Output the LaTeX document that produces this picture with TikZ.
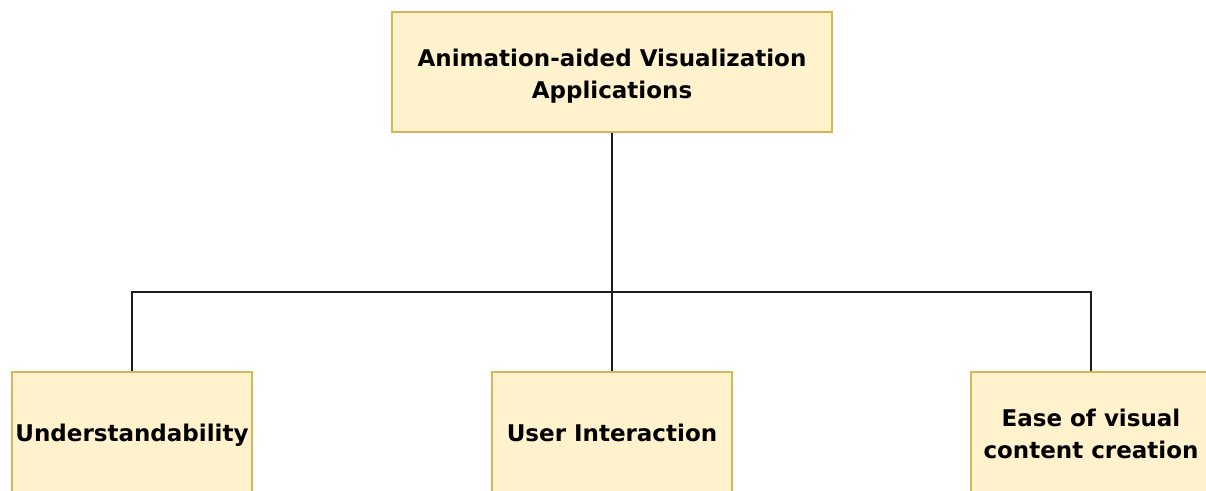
\documentclass[tikz,border=0pt]{standalone}
\usepackage{fontspec}
\setmainfont{DejaVu Sans}
\definecolor{boxfill}{HTML}{FFF2CC}
\definecolor{boxline}{HTML}{D6B656}
\definecolor{wire}{HTML}{1E1E1E}
\begin{document}
\begin{tikzpicture}[x=1pt,y=-1pt,
  topicbox/.style={draw=boxline,fill=boxfill,line width=1.5pt,
    minimum width=440pt,minimum height=120pt,inner sep=0pt,
    align=center,font=\fontsize{23}{32}\selectfont\bfseries},
  leafbox/.style={topicbox,minimum width=240pt},
  oneline/.style={text height=24pt,text depth=5pt},
  twoline/.style={text height=58pt,text depth=5pt},
  link/.style={draw=wire,line width=1.8pt}]
  \clip (0,0) rectangle (1206,490);
  \fill[white] (0,0) rectangle (1206,490);

  % root and the three branches
  \node[topicbox,twoline] (root) at (612,72) {Animation-aided Visualization\\Applications};
  \node[leafbox,oneline] (under) at (132,432) {Understandability};
  \node[leafbox,oneline] (inter) at (612,432) {User Interaction};
  \node[leafbox,twoline] (ease) at (1091,432) {Ease of visual\\content creation};

  % shared horizontal bus
  \coordinate (bus) at (612,292);

  \draw[link] (root.south) -- (bus) -| (under.north);
  \draw[link] (root.south) -- (bus) -- (inter.north);
  \draw[link] (root.south) -- (bus) -| (ease.north);
\end{tikzpicture}
\end{document}
